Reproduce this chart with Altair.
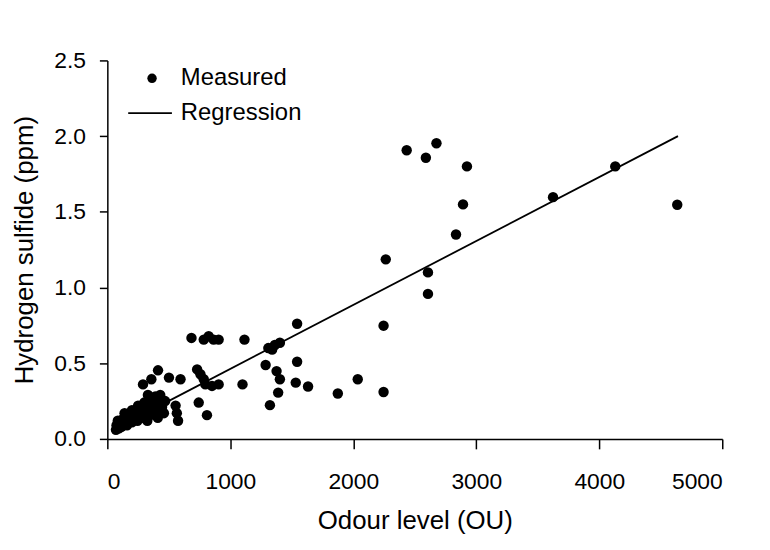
import altair as alt
import pandas as pd

# Measured points (odour level OU, hydrogen sulfide ppm)
odour = [
    70, 75, 85, 95, 105, 115, 125, 135, 150, 160, 175, 185, 200, 215, 230, 245,
    260, 275, 290, 300, 310, 325, 340, 350, 360, 375, 390, 400, 410, 420, 430,
    445, 460, 470, 330, 250, 200, 140,
    290, 358, 412, 501, 595, 555, 565, 575,
    684, 730, 757, 784, 797, 851, 905, 743, 810,
    784, 824, 864, 905, 1115, 1099,
    1309, 1362, 1403, 1340, 1287, 1376, 1403, 1389, 1322,
    1543, 1543, 1532, 1632, 1874, 2036, 2246, 2246,
    2264, 2434, 2676, 2590, 2924, 2892, 2835, 2607, 2607, 3624, 4130, 4634,
]
h2s = [
    0.06, 0.09, 0.12, 0.07, 0.10, 0.08, 0.13, 0.10, 0.14, 0.09, 0.12, 0.16, 0.11,
    0.14, 0.18, 0.12, 0.16, 0.21, 0.14, 0.24, 0.18, 0.12, 0.21, 0.26, 0.16, 0.23,
    0.28, 0.19, 0.14, 0.24, 0.29, 0.21, 0.17, 0.25, 0.29, 0.22, 0.19, 0.17,
    0.36, 0.394, 0.453, 0.405, 0.394, 0.22, 0.17, 0.12,
    0.667, 0.459, 0.427, 0.394, 0.36, 0.35, 0.36, 0.24, 0.157,
    0.656, 0.678, 0.656, 0.656, 0.656, 0.36,
    0.60, 0.62, 0.635, 0.59, 0.488, 0.448, 0.394, 0.306, 0.223,
    0.761, 0.51, 0.372, 0.346, 0.30, 0.394, 0.31, 0.748,
    1.186, 1.907, 1.953, 1.857, 1.80, 1.549, 1.35, 1.10, 0.958, 1.597, 1.80, 1.547,
]

# Regression line endpoints
reg_x = [450, 4640]
reg_y = [0.23, 2.0]

x_ticks = [0, 1000, 2000, 3000, 4000, 5000]
y_ticks = [0.0, 0.5, 1.0, 1.5, 2.0, 2.5]

FONT = "Liberation Sans"

pts = pd.DataFrame({"x": odour, "y": h2s, "series": "Measured"})
reg = pd.DataFrame({"x": reg_x, "y": reg_y, "series2": "Regression"})

xscale = alt.Scale(domain=[0, 5000], nice=False, zero=False)
yscale = alt.Scale(domain=[0, 2.5], nice=False, zero=False)

xaxis = alt.Axis(values=x_ticks, format="d", title="Odour level (OU)",
                 tickSize=10, labelPadding=22, titlePadding=14, grid=False)
yaxis = alt.Axis(values=y_ticks, format=".1f", title="Hydrogen sulfide (ppm)",
                 tickSize=8, labelPadding=14, titlePadding=16, grid=False)

points = alt.Chart(pts).mark_point(filled=True, opacity=1, size=110, color="black").encode(
    x=alt.X("x:Q", scale=xscale, axis=xaxis),
    y=alt.Y("y:Q", scale=yscale, axis=yaxis),
    shape=alt.Shape("series:N",
                    scale=alt.Scale(domain=["Measured"], range=["circle"]),
                    legend=alt.Legend(title=None, orient="none", legendX=33, legendY=6,
                                      symbolSize=90, symbolFillColor="black",
                                      symbolStrokeColor="black", labelOffset=17,
                                      padding=0)),
)

line = alt.Chart(reg).mark_line(strokeWidth=1.8).encode(
    x=alt.X("x:Q", scale=xscale),
    y=alt.Y("y:Q", scale=yscale),
    color=alt.Color("series2:N",
                    scale=alt.Scale(domain=["Regression"], range=["black"]),
                    legend=alt.Legend(title=None, orient="none", legendX=20, legendY=30,
                                      symbolType="stroke", symbolSize=1936,
                                      symbolStrokeWidth=1.8, labelOffset=8,
                                      padding=0)),
)

chart = alt.layer(line, points).properties(
    width=619, height=381,
    autosize=alt.AutoSizeParams(type="none"),
    padding={"left": 100, "top": 51, "right": 40, "bottom": 102},
).configure_view(stroke=None).configure_axis(
    domainColor="black", tickColor="black", labelColor="black", titleColor="black",
    labelFont=FONT, titleFont=FONT, labelFontSize=23, titleFontSize=26,
    titleFontWeight="normal", domainWidth=1.5, tickWidth=1.5,
).configure_legend(
    labelFont=FONT, labelFontSize=24, labelColor="black",
)

chart.save("out.html", embed_options={"renderer": "svg", "actions": False})
